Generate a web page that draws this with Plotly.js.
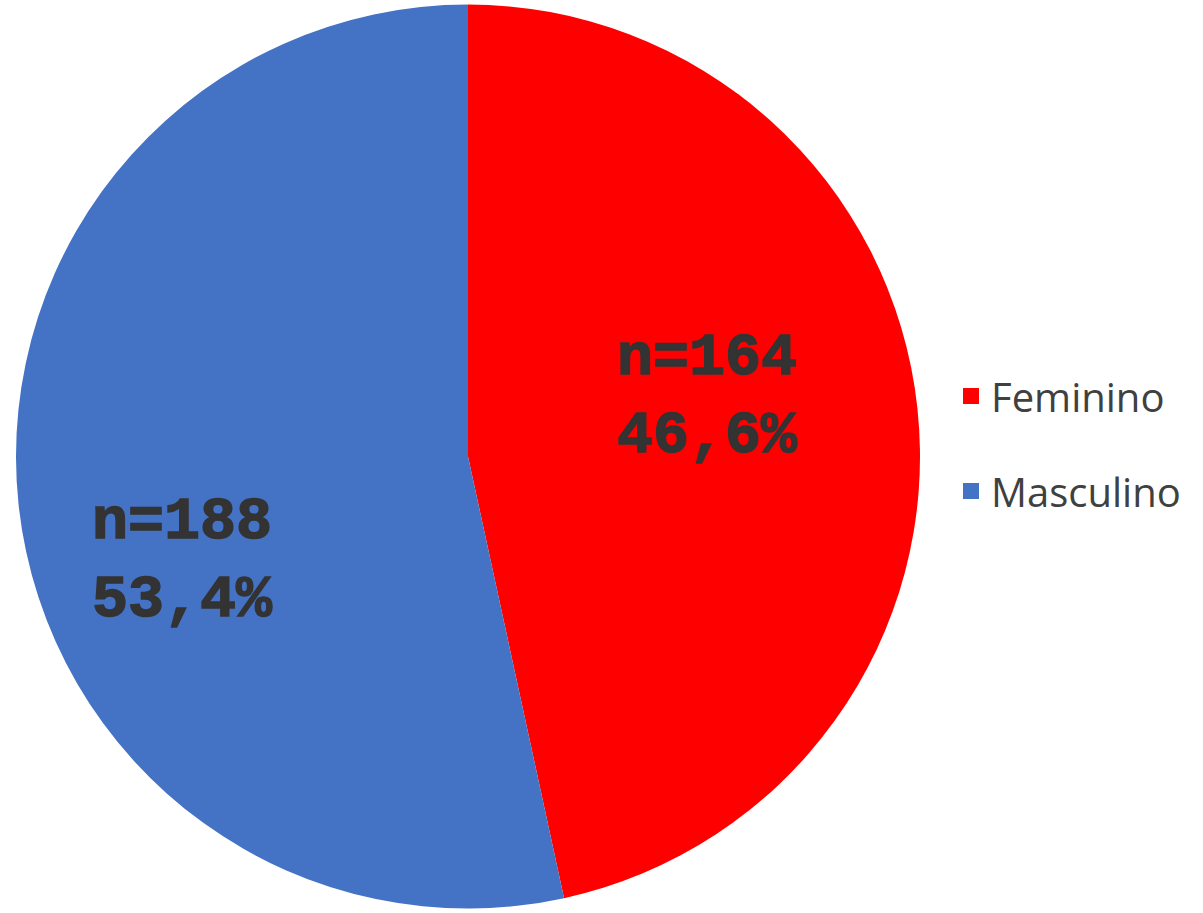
<!DOCTYPE html>
<html><head><meta charset="utf-8">
<script src="https://cdn.plot.ly/plotly-3.0.1.min.js"></script>
<style>html,body{margin:0;padding:0;background:#fff;} #chart{width:1203px;height:913px;}</style>
</head><body><div id="chart"></div>
<script>
const categories = ["Feminino", "Masculino"];
const counts = [164, 188];
const colors = ["#FF0000", "#4472C4"];

const total = counts.reduce((a, b) => a + b, 0);
const pctText = counts.map(c => (c / total * 100).toFixed(1).replace('.', ',') + '%');

const annPos = [{x: 0.588, y: 0.565}, {x: 0.152, y: 0.385}];
const annotations = categories.map((c, i) => ({
  xref: 'paper', yref: 'paper', x: annPos[i].x, y: annPos[i].y,
  xanchor: 'center', yanchor: 'middle', showarrow: false,
  text: '<b>n=' + counts[i] + '<br>' + pctText[i] + '</b>',
  align: 'left',
  font: {family: '"Liberation Mono", "Courier New", monospace', size: 60, color: '#333333'}
}));

const data = [{
  type: 'pie', labels: categories, values: counts,
  marker: {colors: colors, line: {width: 0}},
  sort: false, direction: 'clockwise', rotation: 0,
  textinfo: 'none', hoverinfo: 'label+value+percent',
  showlegend: false,
  domain: {x: [16/1203, 920/1203], y: [0.002, 0.998]}
}];
// legend entries (one per category), drawn by the library's legend
categories.forEach((c, i) => data.push({
  type: 'scatter', mode: 'markers', x: [null], y: [null], name: c,
  legendgroup: c, showlegend: true,
  marker: {symbol: 'square', size: 20, color: colors[i]}
}));

const layout = {
  width: 1203, height: 913,
  margin: {l: 0, r: 0, t: 0, b: 0},
  paper_bgcolor: '#ffffff', plot_bgcolor: 'rgba(0,0,0,0)',
  xaxis: {visible: false}, yaxis: {visible: false},
  showlegend: true,
  legend: {x: 951/1203, y: 1 - 443.5/913, xanchor: 'left', yanchor: 'middle',
    tracegroupgap: 40, bgcolor: 'rgba(0,0,0,0)',
    font: {family: '"Open Sans", sans-serif', size: 40, color: '#404040'}},
  annotations: annotations
};

Plotly.newPlot('chart', data, layout, {displayModeBar: false}).then(() => {
  document.querySelectorAll('.annotation-text').forEach(t => {
    t.style.stroke = '#333333'; t.style.strokeWidth = '1.5px';
  });
});
</script></body></html>
